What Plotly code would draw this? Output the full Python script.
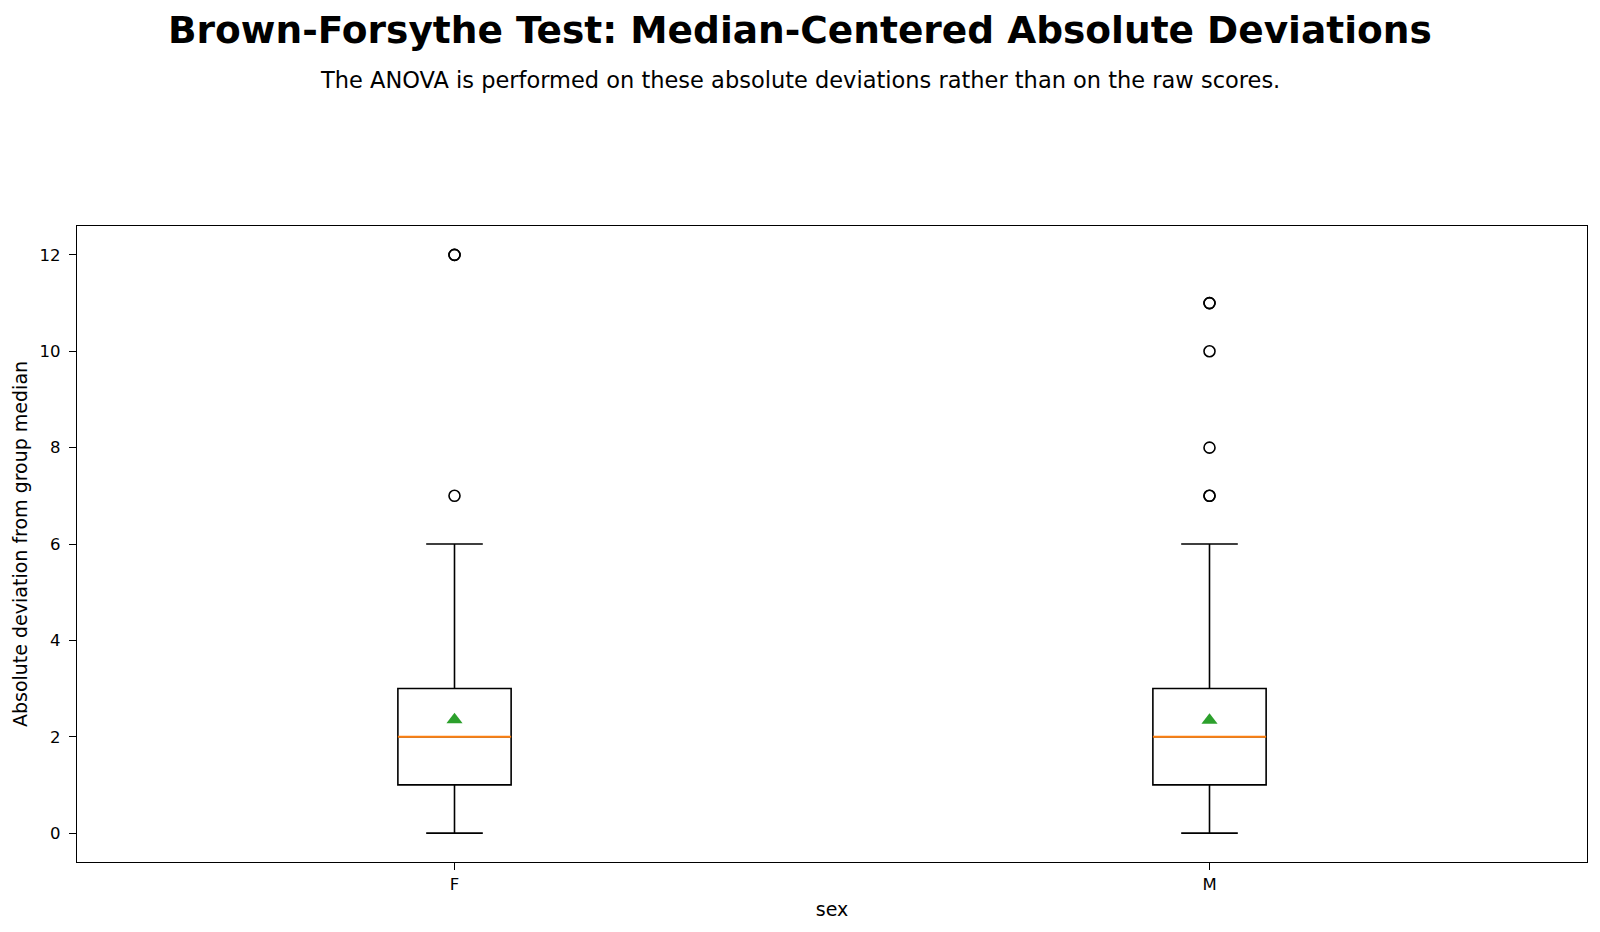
import plotly.graph_objects as go

# ---- data ----
groups = ["F", "M"]
positions = [1, 2]
q1_vals = [1, 1]
median_vals = [2, 2]
q3_vals = [3, 3]
lower_whiskers = [0, 0]
upper_whiskers = [6, 6]
mean_vals = [2.35, 2.34]
outliers_F = [7, 12, 12]
outliers_M = [7, 7, 8, 10, 11, 11]
outliers = [outliers_F, outliers_M]
y_ticks = [0, 2, 4, 6, 8, 10, 12]

title_text = "Brown-Forsythe Test: Median-Centered Absolute Deviations"
subtitle_text = "The ANOVA is performed on these absolute deviations rather than on the raw scores."

BOX_W = 0.15
FONT = "DejaVu Sans"

fig = go.Figure()

fig.add_trace(go.Box(
    x=positions,
    q1=q1_vals,
    median=median_vals,
    q3=q3_vals,
    lowerfence=lower_whiskers,
    upperfence=upper_whiskers,
    width=BOX_W,
    whiskerwidth=0.5,
    line=dict(color="black", width=1.6),
    fillcolor="rgba(255,255,255,0)",
    boxpoints=False,
    hoverinfo="skip",
    showlegend=False,
))

for pos, med in zip(positions, median_vals):
    fig.add_trace(go.Scatter(
        x=[pos - BOX_W / 2, pos + BOX_W / 2], y=[med, med],
        mode="lines", line=dict(color="#ff7f0e", width=1.8),
        showlegend=False, hoverinfo="skip",
    ))

for pos, outs in zip(positions, outliers):
    fig.add_trace(go.Scatter(
        x=[pos] * len(outs), y=outs, mode="markers",
        marker=dict(symbol="circle-open", size=11, color="black", line=dict(width=1.6)),
        showlegend=False, hoverinfo="skip",
    ))

fig.add_trace(go.Scatter(
    x=positions, y=mean_vals, mode="markers",
    marker=dict(symbol="triangle-up", size=14, color="#2ca02c"),
    showlegend=False, hoverinfo="skip",
))

L, R, T, B = 77, 13, 226, 70
W, H = 1600, 932
plot_h = H - T - B
plot_w = W - L - R

def py(ypix):
    return (H - B - ypix) / plot_h

def px(xpix):
    return (xpix - L) / plot_w

fig.add_annotation(text="<b>" + title_text + "</b>", x=px(800), y=py(30),
                   xref="paper", yref="paper", showarrow=False,
                   xanchor="center", yanchor="middle",
                   font=dict(family=FONT, size=37.5, color="black"))
fig.add_annotation(text=subtitle_text, x=px(800), y=py(80),
                   xref="paper", yref="paper", showarrow=False,
                   xanchor="center", yanchor="middle",
                   font=dict(family=FONT, size=22.5, color="black"))

axis_common = dict(
    showgrid=False, zeroline=False,
    showline=True, mirror=True, linecolor="black", linewidth=1.3,
    ticks="outside", ticklen=7, tickcolor="black", tickwidth=1.3,
    tickfont=dict(size=16.5),
)

fig.update_layout(
    width=W, height=H,
    margin=dict(l=L, r=R, t=T, b=B),
    paper_bgcolor="white", plot_bgcolor="white",
    font=dict(family=FONT, color="black", size=16),
    xaxis=dict(
        range=[0.5, 2.5], tickvals=positions, ticktext=groups,
        ticklabelstandoff=0,
        title=dict(text="sex", font=dict(size=19), standoff=9),
        **axis_common,
    ),
    yaxis=dict(
        range=[-0.6, 12.6], tickvals=y_ticks,
        ticklabelstandoff=5,
        title=dict(text="Absolute deviation from group median", font=dict(size=19), standoff=6),
        **axis_common,
    ),
)

fig.write_html("out.html")
